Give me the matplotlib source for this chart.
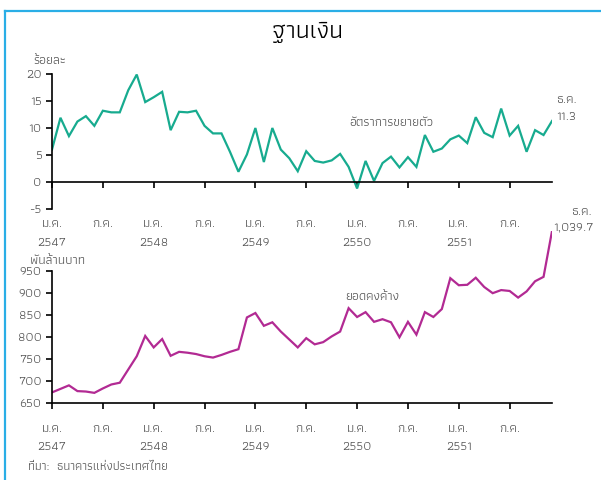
import matplotlib
matplotlib.use("Agg")
import matplotlib.pyplot as plt
from matplotlib import font_manager
from matplotlib.ft2font import FT2Font
from matplotlib.lines import Line2D

# ---- data (monthly, ม.ค. 2547 – ธ.ค. 2551) ----
growth = [6.0, 11.9, 8.5, 11.2, 12.2, 10.4, 13.2, 12.9, 12.9, 17.0, 19.9, 14.8,
          15.7, 16.7, 9.6, 13.0, 12.9, 13.2, 10.4, 9.0, 9.0, 5.6, 1.9, 5.1,
          10.0, 3.7, 10.0, 6.0, 4.4, 2.0, 5.7, 3.9, 3.6, 4.0, 5.2, 2.8,
          -1.2, 3.9, 0.2, 3.5, 4.7, 2.7, 4.6, 2.8, 8.7, 5.6, 6.2, 7.9,
          8.6, 7.2, 12.0, 9.1, 8.3, 13.6, 8.6, 10.4, 5.6, 9.6, 8.7, 11.3]
outstanding = [674, 682, 690, 677, 676, 673, 683, 692, 696, 726, 756, 802,
               776, 795, 757, 766, 764, 761, 756, 753, 759, 766, 772, 844,
               854, 825, 833, 812, 794, 776, 797, 783, 788, 801, 812, 865,
               845, 856, 834, 840, 833, 799, 834, 805, 856, 845, 863, 933,
               917, 918, 934, 913, 899, 906, 904, 889, 903, 926, 936, 1039.7]
month_ticks = [0, 6, 12, 18, 24, 30, 36, 42, 48, 54]
month_labels = ["ม.ค.", "ก.ค."] * 5
year_ticks = [0, 12, 24, 36, 48]
year_labels = ["2547", "2548", "2549", "2550", "2551"]

TEAL = "#17ab8f"
MAGENTA = "#b22a93"
GREY = "#555555"
FS = 9.5


def pick_thai_font(prefs):
    names = set()
    for f in font_manager.fontManager.ttflist:
        try:
            if 0x0E01 in FT2Font(f.fname).get_charmap():
                names.add(f.name)
        except Exception:
            pass
    for n in prefs:
        if n in names:
            return n
    return sorted(names)[0] if names else "DejaVu Sans"


thai = pick_thai_font(["Athiti", "Anuphan", "Kanit", "Prompt"])
plt.rcParams["font.family"] = [thai, "DejaVu Sans"]
plt.rcParams["axes.unicode_minus"] = False

fig = plt.figure(figsize=(6.01, 4.8), dpi=100)
ax1 = fig.add_axes([0.0865, 0.5646, 0.832, 0.2812])
ax2 = fig.add_axes([0.0865, 0.1604, 0.832, 0.3584])
ax1.patch.set_visible(False)
ax2.patch.set_visible(False)
x = list(range(len(growth)))


def style_x(ax, pad_month, pad_year):
    ax.set_xlim(0, 59)
    for s in ("top", "right"):
        ax.spines[s].set_visible(False)
    # month names on major ticks, years as a second row on minor ticks
    ax.xaxis.remove_overlapping_locs = False
    ax.set_xticks(month_ticks)
    ax.set_xticklabels(month_labels)
    ax.set_xticks(year_ticks, minor=True)
    ax.set_xticklabels(year_labels, minor=True)
    ax.tick_params(colors="black", labelcolor=GREY, labelsize=FS, length=4,
                   width=1.2)
    ax.tick_params(axis="x", which="major", pad=pad_month)
    ax.tick_params(axis="x", which="minor", length=0, pad=pad_year,
                   labelcolor=GREY, labelsize=FS)
    ax.spines["left"].set_linewidth(1.2)
    ax.spines["bottom"].set_linewidth(1.2)


# top panel: growth rate
ax1.plot(x, growth, color=TEAL, lw=1.6, solid_joinstyle="miter")
ax1.set_ylim(-5, 20)
ax1.set_yticks(range(-5, 21, 5))
ax1.spines["bottom"].set_position(("data", 0))
style_x(ax1, 23, 40)
ax1.text(-0.038, 1.10, "ร้อยละ", transform=ax1.transAxes, fontsize=FS,
         color=GREY, va="center")
ax1.text(35.1, 10.9, "อัตราการขยายตัว", fontsize=FS, color=GREY, va="center")
ax1.text(59.5, 15.2, "ธ.ค.", fontsize=FS, color=GREY, va="center", clip_on=False)
ax1.text(59.5, 12.0, "11.3", fontsize=FS, color=GREY, va="center", clip_on=False)

# bottom panel: outstanding
ax2.plot(x, outstanding, color=MAGENTA, lw=1.6, solid_joinstyle="miter")
ax2.set_ylim(650, 1040)
ax2.set_yticks(range(650, 951, 50))
ax2.spines["left"].set_bounds(650, 950)
style_x(ax2, 11, 28)
ax2.text(-0.044, 0.83, "พันล้านบาท", transform=ax2.transAxes, fontsize=FS,
         color=GREY, va="center")
ax2.text(34.6, 891, "ยอดคงค้าง", fontsize=FS, color=GREY, va="center")
ax2.text(61.2, 1082, "ธ.ค.", fontsize=FS, color=GREY, va="center", clip_on=False)
ax2.text(59.2, 1048, "1,039.7", fontsize=FS, color=GREY, va="center",
         clip_on=False)

fig.text(0.512, 0.933, "ฐานเงิน", ha="center", va="center", fontsize=18)
fig.text(0.047, 0.027, "ที่มา:  ธนาคารแห่งประเทศไทย", fontsize=9, color=GREY,
         va="center")

# frame lines of the surrounding box
fig.add_artist(Line2D([0.009, 1.0], [0.977, 0.977], color="#2aaee6", lw=1.6))
fig.add_artist(Line2D([0.009, 0.009], [0.0, 0.977], color="#2aaee6", lw=1.6))

fig.savefig("out.png", dpi=100)
